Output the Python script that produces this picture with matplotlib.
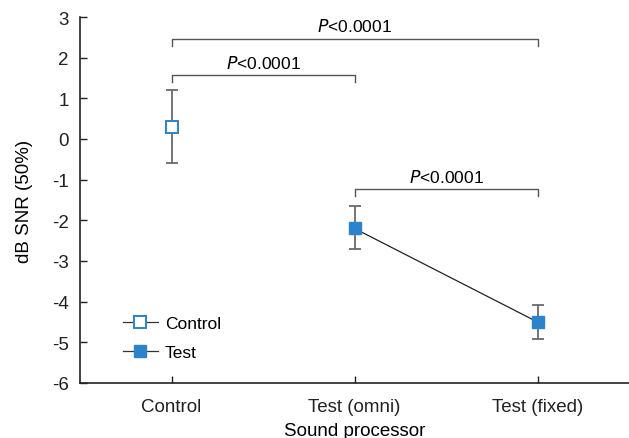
import matplotlib.pyplot as plt

plt.rcParams['font.family'] = ['Liberation Sans', 'DejaVu Sans']

groups = ['Control', 'Test (omni)', 'Test (fixed)']
means = [0.3, -2.2, -4.5]
err_hi = [1.2, -1.65, -4.08]
err_lo = [-0.6, -2.7, -4.92]
p_text = '<0.0001'
brackets = [(0, 2, 2.47), (0, 1, 1.57), (1, 2, -1.23)]

blue = '#2b83cc'

fig = plt.figure(figsize=(6.29, 4.39), dpi=100)
ax = fig.add_axes([80 / 629, 55 / 439, 549 / 629, 366 / 439])

x = list(range(len(groups)))
lo = [m - l for m, l in zip(means, err_lo)]
hi = [h - m for m, h in zip(means, err_hi)]
ax.errorbar(x, means, yerr=[lo, hi], fmt='none', ecolor='#6a6a6a',
            elinewidth=1.3, capsize=4.5, capthick=1.3, zorder=2)

ax.plot(x[1:], means[1:], color='#222222', lw=0.9, zorder=3)
ctrl, = ax.plot([x[0]], [means[0]], marker='s', ms=8, mfc='white', mec=blue,
                mew=1.4, ls='-', color='#333333', lw=0.9, zorder=4)
test, = ax.plot(x[1:], means[1:], marker='s', ms=9, mfc=blue, mec=blue,
                ls='none', zorder=4)
test_h, = ax.plot([], [], marker='s', ms=8, mfc=blue, mec=blue,
                  ls='-', color='#333333', lw=0.9)

for a, b, yb in brackets:
    ax.plot([x[a], x[a], x[b], x[b]], [yb - 0.18, yb, yb, yb - 0.18],
            color='#555555', lw=1.0, zorder=1)
    ax.text((x[a] + x[b]) / 2, yb + 0.1, r'$\it{P}$' + p_text,
            ha='center', va='bottom', fontsize=12.5)

leg = ax.legend([ctrl, test_h], ['Control', 'Test'], loc='lower left',
                bbox_to_anchor=(0.05, 0.02), frameon=False, fontsize=12.5,
                handlelength=2.0, handletextpad=0.4, labelspacing=0.8)

ax.set_xlim(-0.5, 2.5)
ax.set_ylim(-6, 3)
ax.set_yticks(range(-6, 4))
ax.set_yticklabels([str(v) for v in range(-6, 4)])
ax.set_xticks(x)
ax.set_xticklabels(groups)
ax.tick_params(direction='in', length=5, width=1, colors='#222222',
               labelsize=13.5, labelcolor='#222222')
ax.tick_params(axis='y', pad=8)
ax.tick_params(axis='x', pad=11)
for s in ['top', 'right']:
    ax.spines[s].set_visible(False)
for s in ['left', 'bottom']:
    ax.spines[s].set_linewidth(1.2)
    ax.spines[s].set_color('#222222')

ax.set_ylabel('dB SNR (50%)', fontsize=13.5, labelpad=14)
ax.set_xlabel('Sound processor', fontsize=13.5, labelpad=5)

fig.savefig('out.png', dpi=100)
